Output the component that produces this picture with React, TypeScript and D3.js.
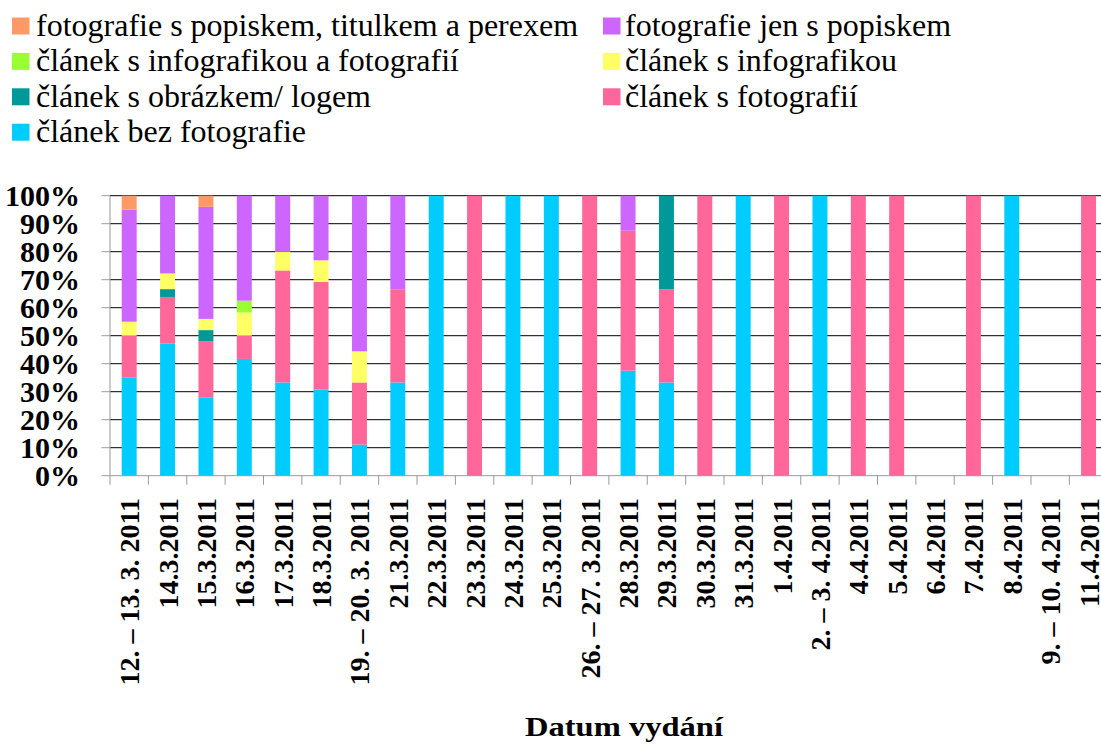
import React from "react";
import * as d3 from "d3";

const categories = [
  "12. – 13. 3. 2011", "14.3.2011", "15.3.2011", "16.3.2011", "17.3.2011", "18.3.2011",
  "19. – 20. 3. 2011", "21.3.2011", "22.3.2011", "23.3.2011", "24.3.2011", "25.3.2011",
  "26. – 27. 3.2011", "28.3.2011", "29.3.2011", "30.3.2011", "31.3.2011", "1.4.2011",
  "2. – 3. 4.2011", "4.4.2011", "5.4.2011", "6.4.2011", "7.4.2011", "8.4.2011",
  "9. – 10. 4.2011", "11.4.2011",
];

// percentages per category (stack order bottom -> top)
const clanekBezFotografie = [35, 47.2, 28, 41.7, 33.3, 30.8, 11.1, 33.3, 100, 0, 100, 100, 0, 37.5, 33.3, 0, 100, 0, 100, 0, 0, 0, 0, 100, 0, 0];
const clanekSFotografii = [15, 16.7, 20, 8.3, 40, 38.5, 22.2, 33.3, 0, 100, 0, 0, 100, 50, 33.3, 100, 0, 100, 0, 100, 100, 0, 100, 0, 0, 100];
const clanekSObrazkem = [0, 2.8, 4, 0, 0, 0, 0, 0, 0, 0, 0, 0, 0, 0, 33.4, 0, 0, 0, 0, 0, 0, 0, 0, 0, 0, 0];
const clanekSInfografikou = [5, 5.6, 4, 8.3, 6.7, 7.7, 11.1, 0, 0, 0, 0, 0, 0, 0, 0, 0, 0, 0, 0, 0, 0, 0, 0, 0, 0, 0];
const clanekSInfografikouAFoto = [0, 0, 0, 4.2, 0, 0, 0, 0, 0, 0, 0, 0, 0, 0, 0, 0, 0, 0, 0, 0, 0, 0, 0, 0, 0, 0];
const fotografieJenSPopiskem = [40, 27.8, 40, 37.5, 20, 23.1, 55.6, 33.4, 0, 0, 0, 0, 0, 12.5, 0, 0, 0, 0, 0, 0, 0, 0, 0, 0, 0, 0];
const fotografiePopiskemTitulkem = [5, 0, 4, 0, 0, 0, 0, 0, 0, 0, 0, 0, 0, 0, 0, 0, 0, 0, 0, 0, 0, 0, 0, 0, 0, 0];

const seriesNames = [
  "článek bez fotografie",
  "článek s fotografií",
  "článek s obrázkem/ logem",
  "článek s infografikou",
  "článek s infografikou a fotografií",
  "fotografie jen s popiskem",
  "fotografie s popiskem, titulkem a perexem",
];
const seriesValues = [
  clanekBezFotografie,
  clanekSFotografii,
  clanekSObrazkem,
  clanekSInfografikou,
  clanekSInfografikouAFoto,
  fotografieJenSPopiskem,
  fotografiePopiskemTitulkem,
];
const seriesColors = ["#00CCFF", "#FF6699", "#009999", "#FFFF66", "#99FF33", "#CC66FF", "#FF9966"];

// legend order (row by row, two columns)
const legendOrder = [6, 5, 4, 3, 2, 1, 0];

const yTicks = [0, 10, 20, 30, 40, 50, 60, 70, 80, 90, 100];
const xTitle = "Datum vydání";

const W = 1101;
const H = 744;
const FONT = "'Liberation Serif', 'Times New Roman', serif";

export default function App() {
  const left = 110;
  const step = 38.375;
  const x = d3
    .scaleBand<string>()
    .domain(categories)
    .range([left, left + step * categories.length])
    .paddingInner(0.61)
    .paddingOuter(0.305);
  const y = d3.scaleLinear().domain([0, 1]).range([475.7, 195.7]);

  const table = categories.map((c, i) => {
    const row: any = { cat: c };
    seriesNames.forEach((s, k) => (row[s] = seriesValues[k][i]));
    return row;
  });
  const stack = d3.stack<any>().keys(seriesNames).offset(d3.stackOffsetExpand);
  const layers = stack(table);

  const gridRight = W;
  const axisGray = "#999999";

  return (
    <svg
      width={W}
      height={H}
      style={{ position: "absolute", left: 0, top: 0, overflow: "hidden", background: "#fff" }}
    >
      {/* gridlines */}
      {yTicks.map((t) => (
        <g key={"g" + t}>
          <line x1={left} x2={gridRight} y1={y(t / 100)} y2={y(t / 100)} stroke={t === 0 ? axisGray : "#000"} strokeWidth={1} />
          <line x1={101.5} x2={left} y1={y(t / 100)} y2={y(t / 100)} stroke={axisGray} strokeWidth={1} />
          <text
            x={80}
            y={y(t / 100) + 10}
            textAnchor="end"
            fontFamily={FONT}
            fontWeight="bold"
            fontSize={30}
            fill="#000"
          >
            {t + "%"}
          </text>
        </g>
      ))}
      {/* y axis line */}
      <line x1={left} x2={left} y1={y(1)} y2={y(0)} stroke={axisGray} strokeWidth={1} />
      {/* category ticks */}
      {categories.map((c, i) => {
        const bx = left + step * (i + 1);
        return <line key={"t" + i} x1={bx} x2={bx} y1={y(0)} y2={y(0) + 9} stroke={axisGray} strokeWidth={1} />;
      })}
      <line x1={left} x2={left} y1={y(0)} y2={y(0) + 9} stroke={axisGray} strokeWidth={1} />

      {/* bars */}
      {layers.map((layer, k) => (
        <g key={"l" + k} fill={seriesColors[k]}>
          {layer.map((d, i) =>
            d[1] - d[0] > 0 ? (
              <rect
                key={i}
                x={x(categories[i])!}
                width={x.bandwidth()}
                y={y(d[1])}
                height={y(d[0]) - y(d[1])}
              />
            ) : null
          )}
        </g>
      ))}

      {/* x labels */}
      {categories.map((c) => {
        const cx = x(c)! + x.bandwidth() / 2 + 10;
        return (
          <text
            key={"x" + c}
            transform={`translate(${cx},498) rotate(-90)`}
            textAnchor="end"
            fontFamily={FONT}
            fontWeight="bold"
            fontSize={28}
            fill="#000"
          >
            {c}
          </text>
        );
      })}

      {/* x title */}
      <text
        x={624}
        y={736}
        textAnchor="middle"
        fontFamily={FONT}
        fontWeight="bold"
        fontSize={27}
        textLength={198}
        lengthAdjust="spacingAndGlyphs"
        fill="#000"
      >
        {xTitle}
      </text>

      {/* legend */}
      {legendOrder.map((k, j) => {
        const col = j % 2;
        const row = Math.floor(j / 2);
        const baseY = 36 + row * 35.4;
        const sx = col === 0 ? 12 : 603;
        const tx = col === 0 ? 36 : 625;
        return (
          <g key={"lg" + k}>
            <rect x={sx} y={baseY - 18.5} width={17.5} height={17} fill={seriesColors[k]} />
            <text x={tx} y={baseY} fontFamily={FONT} fontSize={32} fill="#000">
              {seriesNames[k]}
            </text>
          </g>
        );
      })}
    </svg>
  );
}
